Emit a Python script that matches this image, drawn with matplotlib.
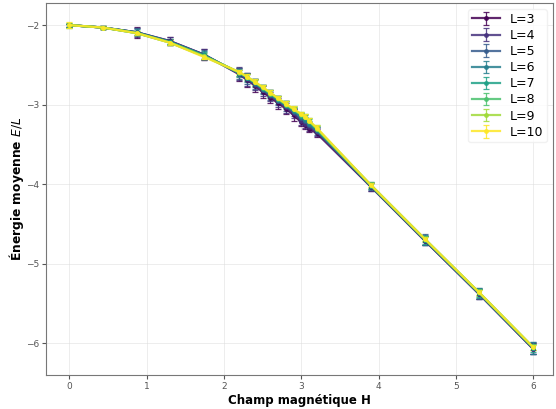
import matplotlib
matplotlib.use("Agg")
import matplotlib.pyplot as plt
import numpy as np

H = [0.0, 0.43, 0.87, 1.3, 1.74, 2.2, 2.3, 2.4, 2.5, 2.6, 2.7, 2.8, 2.9, 3.0, 3.05, 3.1, 3.2, 3.9, 4.6, 5.3, 6.0]

L_sizes = [3, 4, 5, 6, 7, 8, 9, 10]

E_L3 = [-2.00, -2.03, -2.09, -2.20, -2.37, -2.62, -2.69, -2.76, -2.84, -2.91, -2.98, -3.05, -3.13, -3.22, -3.26, -3.30, -3.36, -4.03, -4.71, -5.38, -6.07]
E_L4 = [-2.00, -2.03, -2.09, -2.20, -2.37, -2.61, -2.68, -2.75, -2.82, -2.89, -2.96, -3.03, -3.11, -3.20, -3.24, -3.28, -3.34, -4.03, -4.71, -5.38, -6.07]
E_L5 = [-2.00, -2.03, -2.09, -2.21, -2.37, -2.61, -2.67, -2.74, -2.81, -2.88, -2.95, -3.02, -3.09, -3.17, -3.21, -3.26, -3.33, -4.02, -4.70, -5.37, -6.06]
E_L6 = [-2.00, -2.03, -2.09, -2.21, -2.38, -2.60, -2.66, -2.73, -2.80, -2.87, -2.94, -3.01, -3.08, -3.15, -3.19, -3.24, -3.32, -4.02, -4.70, -5.37, -6.06]
E_L7 = [-2.00, -2.03, -2.10, -2.21, -2.38, -2.60, -2.66, -2.72, -2.79, -2.86, -2.93, -3.00, -3.07, -3.14, -3.17, -3.22, -3.31, -4.02, -4.70, -5.37, -6.06]
E_L8 = [-2.00, -2.03, -2.10, -2.22, -2.39, -2.60, -2.65, -2.72, -2.79, -2.86, -2.93, -3.00, -3.06, -3.13, -3.16, -3.21, -3.30, -4.01, -4.69, -5.36, -6.05]
E_L9 = [-2.00, -2.03, -2.10, -2.22, -2.39, -2.59, -2.65, -2.72, -2.78, -2.85, -2.92, -2.99, -3.06, -3.12, -3.15, -3.20, -3.30, -4.01, -4.69, -5.36, -6.05]
E_L10 = [-2.00, -2.03, -2.10, -2.22, -2.40, -2.59, -2.65, -2.71, -2.78, -2.85, -2.92, -2.99, -3.05, -3.12, -3.15, -3.20, -3.29, -4.01, -4.69, -5.36, -6.05]

ERR_L3 = [0.02, 0.02, 0.07, 0.05, 0.07, 0.08, 0.09, 0.08, 0.08, 0.07, 0.07, 0.07, 0.07, 0.05, 0.05, 0.05, 0.05, 0.05, 0.06, 0.06, 0.07]
ERR_L4 = [0.02, 0.02, 0.06, 0.05, 0.07, 0.08, 0.08, 0.07, 0.07, 0.07, 0.07, 0.07, 0.06, 0.05, 0.05, 0.05, 0.05, 0.05, 0.06, 0.06, 0.07]
ERR_L5 = [0.02, 0.02, 0.05, 0.04, 0.06, 0.07, 0.07, 0.06, 0.06, 0.06, 0.06, 0.06, 0.05, 0.04, 0.04, 0.04, 0.05, 0.05, 0.07, 0.07, 0.08]
ERR_L6 = [0.02, 0.02, 0.04, 0.03, 0.05, 0.05, 0.05, 0.05, 0.05, 0.05, 0.05, 0.05, 0.04, 0.04, 0.04, 0.04, 0.04, 0.04, 0.06, 0.06, 0.07]
ERR_L7 = [0.02, 0.02, 0.03, 0.03, 0.04, 0.04, 0.04, 0.04, 0.04, 0.04, 0.04, 0.04, 0.04, 0.04, 0.04, 0.04, 0.04, 0.04, 0.05, 0.05, 0.05]
ERR_L8 = [0.03, 0.02, 0.03, 0.03, 0.04, 0.04, 0.04, 0.04, 0.04, 0.04, 0.04, 0.04, 0.04, 0.04, 0.04, 0.04, 0.04, 0.04, 0.04, 0.04, 0.04]
ERR_L9 = [0.03, 0.02, 0.03, 0.03, 0.03, 0.03, 0.03, 0.03, 0.03, 0.03, 0.03, 0.03, 0.03, 0.03, 0.03, 0.03, 0.03, 0.03, 0.03, 0.03, 0.03]
ERR_L10 = [0.04, 0.02, 0.03, 0.03, 0.03, 0.03, 0.03, 0.03, 0.03, 0.03, 0.03, 0.03, 0.03, 0.03, 0.03, 0.03, 0.03, 0.03, 0.03, 0.03, 0.03]

energies = [E_L3, E_L4, E_L5, E_L6, E_L7, E_L8, E_L9, E_L10]
errors = [ERR_L3, ERR_L4, ERR_L5, ERR_L6, ERR_L7, ERR_L8, ERR_L9, ERR_L10]

fig = plt.figure(figsize=(5.56, 4.09), dpi=100)
ax = fig.add_axes([0.083, 0.083, 0.912, 0.910])

cmap = plt.get_cmap("viridis")
colors = [cmap(i / (len(L_sizes) - 1)) for i in range(len(L_sizes))]

for L, E, err, c in zip(L_sizes, energies, errors, colors):
    ax.errorbar(H, E, yerr=err, fmt="-o", color=c, markersize=2.5, linewidth=1.6,
                capsize=2, elinewidth=0.9, capthick=0.9, alpha=0.85, label=f"L={L}")

ax.set_xlim(-0.3, 6.26)
ax.set_ylim(-6.4, -1.72)
ax.set_xticks([0, 1, 2, 3, 4, 5, 6])
ax.set_yticks([-6, -5, -4, -3, -2])
ax.tick_params(labelsize=6.5, colors="#555555", length=3, pad=2)
ax.grid(True, color="#dddddd", linewidth=0.6, alpha=0.6)
for s in ax.spines.values():
    s.set_color("#777777")
ax.set_xlabel("Champ magnétique H", fontsize=8.5, fontweight="bold", labelpad=2)
ax.set_ylabel("Énergie moyenne $E/L$", fontsize=8.8, fontweight="bold", labelpad=0)
ax.legend(loc="upper right", fontsize=9, handlelength=2.2, labelspacing=0.25,
          borderpad=0.3, framealpha=0.8, edgecolor="#eeeeee")

fig.savefig("out.png", dpi=100)
